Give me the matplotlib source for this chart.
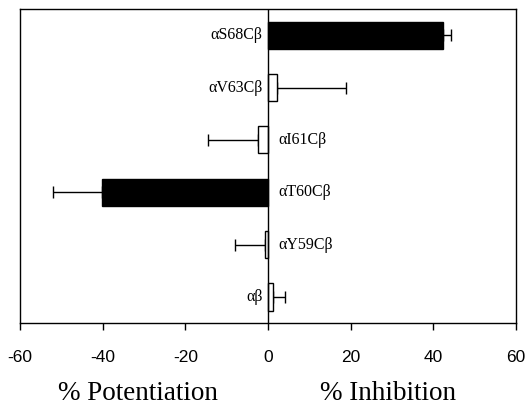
import matplotlib
matplotlib.use("Agg")
import matplotlib.pyplot as plt
import numpy as np

# data, bottom to top
constructs = ["\u03b1\u03b2", "\u03b1Y59C\u03b2", "\u03b1T60C\u03b2", "\u03b1I61C\u03b2", "\u03b1V63C\u03b2", "\u03b1S68C\u03b2"]
values = [1.1, -0.6, -40.1, -2.3, 2.1, 42.3]
errors = [3.0, 7.4, 11.9, 12.1, 16.8, 1.9]
significant = [False, False, True, False, False, True]

fig = plt.figure(figsize=(5.28, 4.07), dpi=100)
ax = fig.add_axes([0.038, 0.206, 0.939, 0.772])

y = np.arange(len(constructs))
colors = ["black" if s else "white" for s in significant]
ax.barh(y, values, height=0.52, color=colors, edgecolor="black", linewidth=1, zorder=2)

# one-sided error bars pointing away from zero
for yi, v, e in zip(y, values, errors):
    xerr = [[0], [e]] if v >= 0 else [[e], [0]]
    ax.errorbar(v, yi, xerr=xerr, fmt="none", ecolor="black", elinewidth=1,
                capsize=4, capthick=1, zorder=1)

# construct names on the opposite side of zero
for yi, v, name in zip(y, values, constructs):
    if v >= 0:
        ax.text(-1.3, yi, name, ha="right", va="center", family="Liberation Serif", fontsize=11.5)
    else:
        ax.text(2.5, yi, name, ha="left", va="center", family="Liberation Serif", fontsize=11.5)

ax.axvline(0, color="black", linewidth=1, zorder=3)
ax.set_xlim(-60, 60)
ax.set_ylim(-0.5, 5.5)
ax.set_xticks([-60, -40, -20, 0, 20, 40, 60])
ax.set_xticklabels(["-60", "-40", "-20", "0", "20", "40", "60"], family="Liberation Sans", fontsize=12.5)
ax.tick_params(axis="x", direction="out", length=5, width=1, pad=14)
ax.set_yticks([])
for s in ax.spines.values():
    s.set_linewidth(1)

fig.text(138 / 528, 1 - 394 / 407, "% Potentiation", ha="center", va="center", family="Liberation Serif", fontsize=19.5)
fig.text(388 / 528, 1 - 394 / 407, "% Inhibition", ha="center", va="center", family="Liberation Serif", fontsize=19.5)

fig.savefig("out.png", dpi=100)
